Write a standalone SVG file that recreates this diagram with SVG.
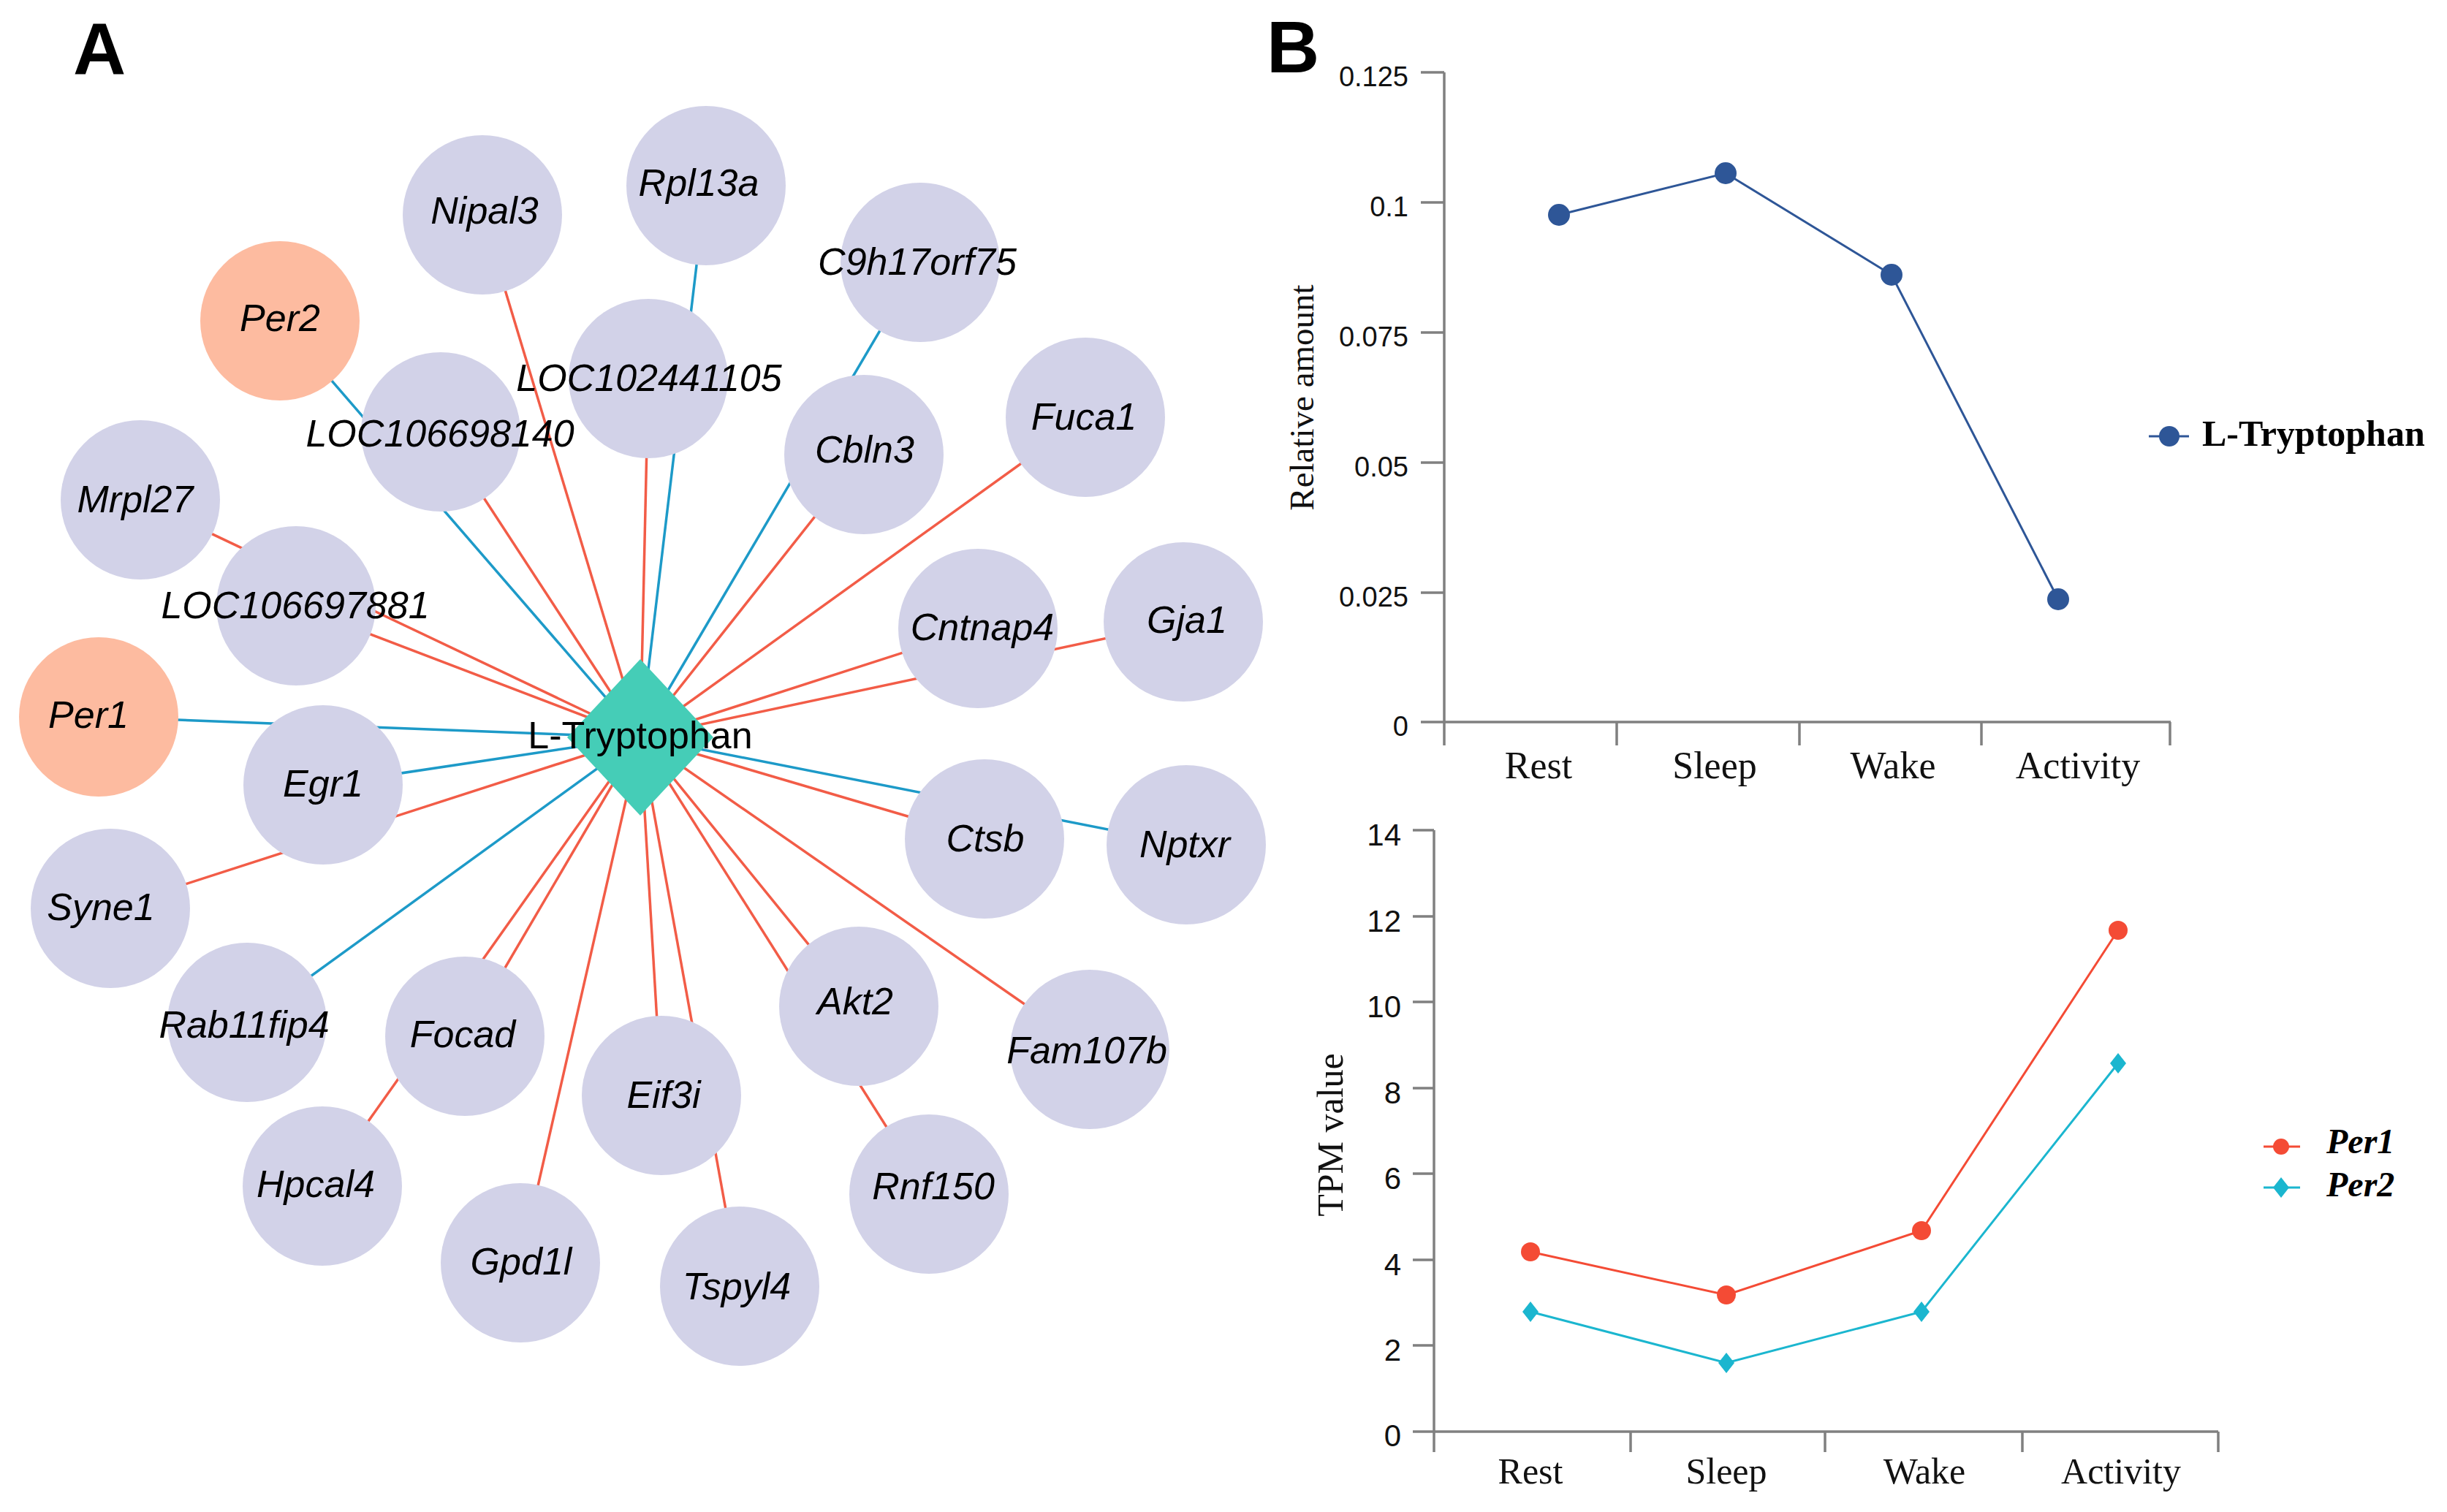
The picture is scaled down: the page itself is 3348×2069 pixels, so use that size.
<svg xmlns="http://www.w3.org/2000/svg" xmlns:xlink="http://www.w3.org/1999/xlink" width="3348" height="2069" viewBox="0 0 3348 2069">
<style>
.bg{fill:#ffffff}
.panel{font-family:"Liberation Sans",Arial,sans-serif;font-weight:bold;font-size:100px;fill:#000}
.n{fill:#D2D2E8}
.p{fill:#FDBBA0}
.lab{font-family:"Liberation Sans",Arial,sans-serif;font-style:italic;font-size:52px;fill:#000;text-anchor:middle}
.er{stroke:#F25C47;stroke-width:3.5;fill:none}
.eb{stroke:#1D9AC8;stroke-width:3.5;fill:none}
.ax{stroke:#808080;stroke-width:3.5;fill:none}
.tk{font-family:"Liberation Sans",Arial,sans-serif;fill:#111;text-anchor:end}
.cat{font-family:"Liberation Serif","Times New Roman",serif;fill:#111;text-anchor:middle}
.ttl{font-family:"Liberation Serif","Times New Roman",serif;fill:#111;text-anchor:middle}
.leg{font-family:"Liberation Serif","Times New Roman",serif;font-weight:bold;fill:#000}
</style>
<defs>
<path id="dia" d="M0,-14 L11,0 L0,14 L-11,0Z"/>
</defs>
<rect class="bg" x="0" y="0" width="3348" height="2069"/>

<text class="panel" x="100" y="102">A</text>
<text class="panel" x="1733" y="99">B</text>

<g id="connectors">
<line class="er" x1="660" y1="294" x2="876" y2="1009"/>
<line class="eb" x1="966" y1="254" x2="876" y2="1009"/>
<line class="eb" x1="1259" y1="359" x2="876" y2="1009"/>
<line class="eb" x1="383" y1="439" x2="876" y2="1009"/>
<line class="er" x1="603" y1="591" x2="876" y2="1009"/>
<line class="er" x1="887" y1="518" x2="876" y2="1009"/>
<line class="er" x1="1182" y1="622" x2="876" y2="1009"/>
<line class="er" x1="1485" y1="571" x2="876" y2="1009"/>
<line class="er" x1="192" y1="684" x2="876" y2="1009"/>
<line class="er" x1="405" y1="829" x2="876" y2="1009"/>
<line class="er" x1="1338" y1="860" x2="876" y2="1009"/>
<line class="er" x1="1619" y1="851" x2="876" y2="1009"/>
<line class="eb" x1="135" y1="981" x2="876" y2="1009"/>
<line class="eb" x1="442" y1="1074" x2="876" y2="1009"/>
<line class="er" x1="1347" y1="1148" x2="876" y2="1009"/>
<line class="eb" x1="1623" y1="1156" x2="876" y2="1009"/>
<line class="er" x1="151" y1="1243" x2="876" y2="1009"/>
<line class="eb" x1="338" y1="1399" x2="876" y2="1009"/>
<line class="er" x1="636" y1="1418" x2="876" y2="1009"/>
<line class="er" x1="1175" y1="1377" x2="876" y2="1009"/>
<line class="er" x1="1491" y1="1436" x2="876" y2="1009"/>
<line class="er" x1="905" y1="1499" x2="876" y2="1009"/>
<line class="er" x1="441" y1="1623" x2="876" y2="1009"/>
<line class="er" x1="1271" y1="1634" x2="876" y2="1009"/>
<line class="er" x1="712" y1="1728" x2="876" y2="1009"/>
<line class="er" x1="1012" y1="1760" x2="876" y2="1009"/>
</g>

<g id="node-circles">
<g id="Nipal3"><circle class="n" cx="660" cy="294" r="109"/></g>
<g id="Rpl13a"><circle class="n" cx="966" cy="254" r="109"/></g>
<g id="C9h17orf75"><circle class="n" cx="1259" cy="359" r="109"/></g>
<g id="Per2"><circle class="p" cx="383" cy="439" r="109"/></g>
<g id="LOC106698140"><circle class="n" cx="603" cy="591" r="109"/></g>
<g id="LOC102441105"><circle class="n" cx="887" cy="518" r="109"/></g>
<g id="Cbln3"><circle class="n" cx="1182" cy="622" r="109"/></g>
<g id="Fuca1"><circle class="n" cx="1485" cy="571" r="109"/></g>
<g id="Mrpl27"><circle class="n" cx="192" cy="684" r="109"/></g>
<g id="LOC106697881"><circle class="n" cx="405" cy="829" r="109"/></g>
<g id="Cntnap4"><circle class="n" cx="1338" cy="860" r="109"/></g>
<g id="Gja1"><circle class="n" cx="1619" cy="851" r="109"/></g>
<g id="Per1"><circle class="p" cx="135" cy="981" r="109"/></g>
<g id="Egr1"><circle class="n" cx="442" cy="1074" r="109"/></g>
<g id="Ctsb"><circle class="n" cx="1347" cy="1148" r="109"/></g>
<g id="Nptxr"><circle class="n" cx="1623" cy="1156" r="109"/></g>
<g id="Syne1"><circle class="n" cx="151" cy="1243" r="109"/></g>
<g id="Rab11fip4"><circle class="n" cx="338" cy="1399" r="109"/></g>
<g id="Focad"><circle class="n" cx="636" cy="1418" r="109"/></g>
<g id="Akt2"><circle class="n" cx="1175" cy="1377" r="109"/></g>
<g id="Fam107b"><circle class="n" cx="1491" cy="1436" r="109"/></g>
<g id="Eif3i"><circle class="n" cx="905" cy="1499" r="109"/></g>
<g id="Hpcal4"><circle class="n" cx="441" cy="1623" r="109"/></g>
<g id="Rnf150"><circle class="n" cx="1271" cy="1634" r="109"/></g>
<g id="Gpd1l"><circle class="n" cx="712" cy="1728" r="109"/></g>
<g id="Tspyl4"><circle class="n" cx="1012" cy="1760" r="109"/></g>
</g>

<g id="node-labels">
<text class="lab" x="663" y="306">Nipal3</text>
<text class="lab" x="956" y="268">Rpl13a</text>
<text class="lab" x="1255" y="376">C9h17orf75</text>
<text class="lab" x="383" y="453">Per2</text>
<text class="lab" x="602" y="611">LOC106698140</text>
<text class="lab" x="888" y="535">LOC102441105</text>
<text class="lab" x="1183" y="633">Cbln3</text>
<text class="lab" x="1483" y="588">Fuca1</text>
<text class="lab" x="185" y="701">Mrpl27</text>
<text class="lab" x="404" y="846">LOC106697881</text>
<text class="lab" x="1344" y="876">Cntnap4</text>
<text class="lab" x="1624" y="866">Gja1</text>
<text class="lab" x="121" y="996">Per1</text>
<text class="lab" x="442" y="1090">Egr1</text>
<text class="lab" x="1348" y="1165">Ctsb</text>
<text class="lab" x="1621" y="1173">Nptxr</text>
<text class="lab" x="138" y="1259">Syne1</text>
<text class="lab" x="334" y="1420">Rab11fip4</text>
<text class="lab" x="633" y="1433">Focad</text>
<text class="lab" x="1170" y="1388">Akt2</text>
<text class="lab" x="1487" y="1455">Fam107b</text>
<text class="lab" x="908" y="1516">Eif3i</text>
<text class="lab" x="432" y="1638">Hpcal4</text>
<text class="lab" x="1277" y="1641">Rnf150</text>
<text class="lab" x="713" y="1744">Gpd1l</text>
<text class="lab" x="1008" y="1778">Tspyl4</text>
</g>

<g id="L-Tryptophan">
<path d="M876,902 L976,1009 L876,1116 L776,1009 Z" fill="#45CDB7"/>
<text x="876" y="1024" font-family="'Liberation Sans',Arial,sans-serif" font-size="52" fill="#000" text-anchor="middle">L-Tryptophan</text>
</g>

<g id="chart-top">
<path class="ax" d="M1976,99 V988 M1944,988 H2970"/>
<path class="ax" d="M1944,99 H1976 M1944,277 H1976 M1944,455 H1976 M1944,633 H1976 M1944,811 H1976"/>
<path class="ax" d="M1976,988 V1020 M2212,988 V1020 M2462,988 V1020 M2711,988 V1020 M2969,988 V1020"/>
<g class="tk" font-size="38">
<text x="1927" y="118">0.125</text>
<text x="1927" y="296">0.1</text>
<text x="1927" y="474">0.075</text>
<text x="1927" y="652">0.05</text>
<text x="1927" y="830">0.025</text>
<text x="1927" y="1007">0</text>
</g>
<g class="cat" font-size="52">
<text x="2105" y="1065">Rest</text>
<text x="2346" y="1065">Sleep</text>
<text x="2590" y="1065">Wake</text>
<text x="2843" y="1065">Activity</text>
</g>
<text class="ttl" font-size="47" transform="translate(1797,544) rotate(-90)">Relative amount</text>
<polyline points="2133,294 2361,237 2588,376 2816,820" fill="none" stroke="#2E5697" stroke-width="3"/>
<g fill="#2E5697">
<circle cx="2133" cy="294" r="15"/>
<circle cx="2361" cy="237" r="15"/>
<circle cx="2588" cy="376" r="15"/>
<circle cx="2816" cy="820" r="15"/>
</g>
<line x1="2940" y1="597" x2="2995" y2="597" stroke="#2E5697" stroke-width="3"/>
<circle cx="2968" cy="597" r="14" fill="#2E5697"/>
<text class="leg" x="3013" y="610" font-size="50">L-Tryptophan</text>
</g>

<g id="chart-bottom">
<path class="ax" d="M1962,1136 V1959 M1933,1959 H3035"/>
<path class="ax" d="M1933,1136 H1962 M1933,1254 H1962 M1933,1371 H1962 M1933,1489 H1962 M1933,1606 H1962 M1933,1724 H1962 M1933,1841 H1962"/>
<path class="ax" d="M1962,1959 V1987 M2231,1959 V1987 M2497,1959 V1987 M2767,1959 V1987 M3035,1959 V1987"/>
<g class="tk" font-size="42">
<text x="1917" y="1157">14</text>
<text x="1917" y="1275">12</text>
<text x="1917" y="1392">10</text>
<text x="1917" y="1510">8</text>
<text x="1917" y="1627">6</text>
<text x="1917" y="1745">4</text>
<text x="1917" y="1862">2</text>
<text x="1917" y="1979">0</text>
</g>
<g class="cat" font-size="50">
<text x="2094" y="2030">Rest</text>
<text x="2362" y="2030">Sleep</text>
<text x="2633" y="2030">Wake</text>
<text x="2902" y="2030">Activity</text>
</g>
<text class="ttl" font-size="50" transform="translate(1837,1553) rotate(-90)">TPM value</text>
<polyline points="2094,1713 2362,1772 2629,1684 2898,1273" fill="none" stroke="#F44B35" stroke-width="3"/>
<polyline points="2094,1795 2362,1865 2629,1795 2898,1455" fill="none" stroke="#1BB6CF" stroke-width="3"/>
<g fill="#F44B35">
<circle cx="2094" cy="1713" r="13"/>
<circle cx="2362" cy="1772" r="13"/>
<circle cx="2629" cy="1684" r="13"/>
<circle cx="2898" cy="1273" r="13"/>
</g>
<g fill="#1BB6CF">
<use xlink:href="#dia" href="#dia" x="2094" y="1795"/>
<use xlink:href="#dia" href="#dia" x="2362" y="1865"/>
<use xlink:href="#dia" href="#dia" x="2629" y="1795"/>
<use xlink:href="#dia" href="#dia" x="2898" y="1455"/>
</g>
<line x1="3097" y1="1569" x2="3147" y2="1569" stroke="#F44B35" stroke-width="3"/>
<circle cx="3121" cy="1569" r="11" fill="#F44B35"/>
<line x1="3097" y1="1625" x2="3147" y2="1625" stroke="#1BB6CF" stroke-width="3"/>
<use xlink:href="#dia" href="#dia" x="3121" y="1625" fill="#1BB6CF"/>
<text class="leg" x="3183" y="1578" font-size="48" font-style="italic">Per1</text>
<text class="leg" x="3183" y="1637" font-size="48" font-style="italic">Per2</text>
</g>
</svg>
